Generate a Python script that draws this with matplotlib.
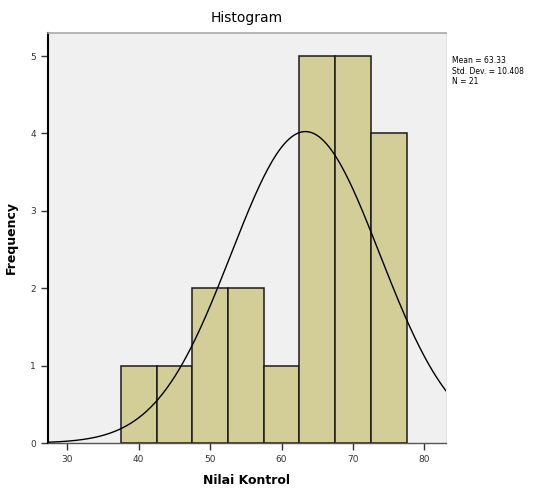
import numpy as np
import matplotlib
matplotlib.use("Agg")
import matplotlib.pyplot as plt

# Data
bin_edges = [37.5, 42.5, 47.5, 52.5, 57.5, 62.5, 67.5, 72.5, 77.5]
counts = [1, 1, 2, 2, 1, 5, 5, 4]
mean_val = 63.33
sd_val = 10.408
n_val = 21
x_ticks = [30, 40, 50, 60, 70, 80]
y_ticks = [0, 1, 2, 3, 4, 5]

fig = plt.figure(figsize=(5.37, 4.9), dpi=100)
ax = fig.add_axes([0.0894, 0.0959, 0.741, 0.837])
ax.set_facecolor('#F0F0F0')

lefts = bin_edges[:-1]
widths = np.diff(bin_edges)
ax.bar(lefts, counts, width=widths, align='edge', color='#D3CE97',
       edgecolor='#1a1a1a', linewidth=1.1, zorder=2)

xs = np.linspace(27.3, 83.0, 400)
bw = widths[0]
ys = n_val * bw / (sd_val * np.sqrt(2 * np.pi)) * np.exp(-0.5 * ((xs - mean_val) / sd_val) ** 2)
ax.plot(xs, ys, color='black', linewidth=1.0, zorder=3)

ax.set_xlim(27.3, 83.0)
ax.set_ylim(0, 5.3)
ax.set_xticks(x_ticks)
ax.set_yticks(y_ticks)
ax.tick_params(axis='both', labelsize=6.5, length=5, width=1, color='#333333', labelcolor='#333333')
ax.spines['top'].set_color('#A8A8A8')
ax.spines['top'].set_linewidth(1.2)
ax.spines['right'].set_color('#E4E4E4')
ax.spines['right'].set_linewidth(0.8)
ax.spines['left'].set_linewidth(1.5)
ax.spines['bottom'].set_linewidth(1.0)
ax.spines['bottom'].set_color('#555555')

ax.set_title('Histogram', fontsize=10, pad=8)
ax.set_xlabel('Nilai Kontrol', fontsize=9, fontweight='bold', labelpad=7)
ax.set_ylabel('Frequency', fontsize=9, fontweight='bold', labelpad=9)

fig.text(0.842, 0.885, f'Mean = {mean_val:.2f}\nStd. Dev. = {sd_val:.3f}\nN = {n_val}',
         fontsize=5.5, va='top', ha='left', linespacing=1.2)

fig.savefig('out.png', dpi=100)
